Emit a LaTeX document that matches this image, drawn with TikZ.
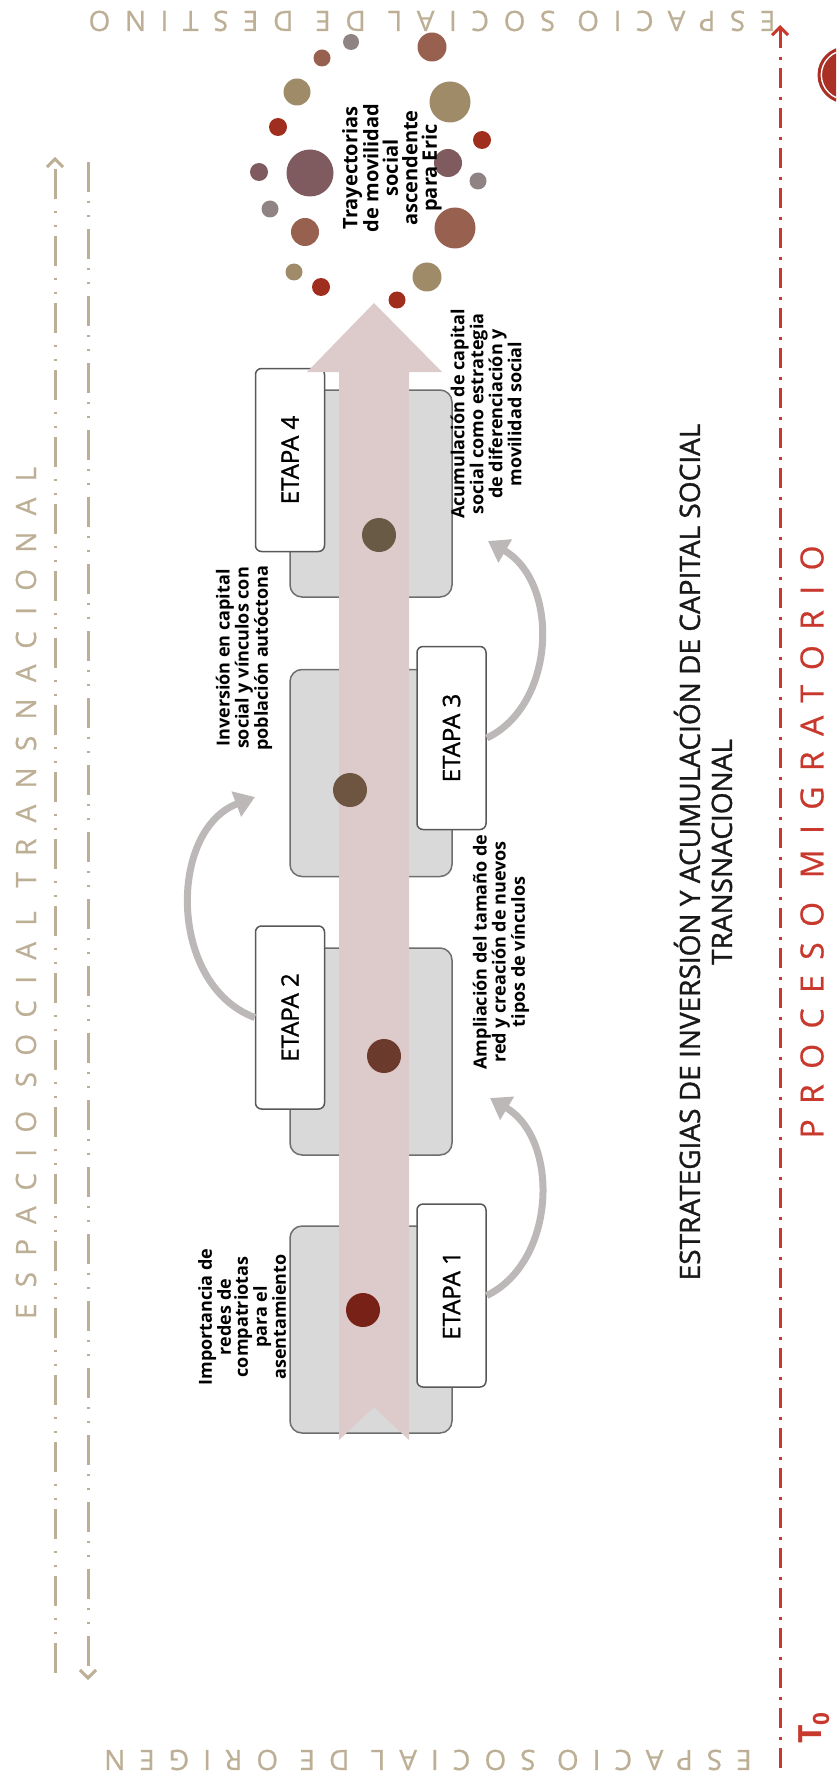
\documentclass[tikz,border=0pt]{standalone}
\usepackage{fontspec}
\setmainfont{Open Sans}
\usetikzlibrary{arrows.meta}
\definecolor{tierra}{HTML}{BDAF95}
\definecolor{rojo}{HTML}{C8382C}
\definecolor{rosa}{HTML}{DDCACA}
\definecolor{gris}{HTML}{D9D9D9}
\definecolor{borde}{HTML}{6E6E6E}
\definecolor{curva}{HTML}{BCB8B8}
\definecolor{ocre}{HTML}{A08B68}
\definecolor{malva}{HTML}{7F5A5F}
\definecolor{teja}{HTML}{98604E}
\definecolor{granate}{HTML}{A02E1F}
\definecolor{ceniza}{HTML}{8F8384}
\newcommand{\espaciado}[2]{{\addfontfeature{LetterSpace=#1,FakeBold=0.6}#2}}
\newcommand{\grueso}{\addfontfeature{FakeBold=1.2}}
\tikzset{
  fase/.style={draw=borde,fill=gris,rounded corners=12pt,line width=1.5pt,minimum width=162pt,minimum height=207pt},
  etapa/.style={draw=borde!80!black,fill=white,rounded corners=6pt,line width=1.5pt,rotate=90,minimum width=183pt,minimum height=69pt,font=\fontsize{24}{28}\selectfont\grueso},
  nota/.style={rotate=90,align=center,inner sep=0pt,font=\bfseries\fontsize{18}{17}\selectfont},
  hito/.style={circle,inner sep=0pt,minimum size=34pt,fill=#1},
  burbuja/.style={circle,inner sep=0pt,fill=#1},
  salto/.style={draw=curva,line width=7pt,-{Triangle[length=20pt,width=26pt]}},
  rotulo/.style={text=tierra,inner sep=0pt,font=\fontsize{28}{30}\selectfont},
  eje/.style={line width=3pt,-{Straight Barb[length=8pt,width=16pt]}},
}
\begin{document}
\begin{tikzpicture}[x=1pt,y=-1pt]
\useasboundingbox (0,0) rectangle (836,1784);
\clip (0,0) rectangle (836,1784);

% destino
\foreach \x/\y/\d/\c [count=\i] in {351/42/16/ceniza,322/58/17/teja,432/47/29/teja,297/92/27/ocre,
    450/102/41/ocre,278/127/18/granate,310/173/47/malva,259/172/18/malva,448/163/28/malva,
    270/209/17/ceniza,305/232/28/teja,455/228/41/teja,294/272/17/ocre,321/287/18/granate,
    427/277/29/ocre,397/300/17/granate,482/140/18/granate,478/181/17/ceniza}
  \node[burbuja=\c,minimum size=\d pt] (b\i) at (\x,\y) {};
\node[nota,font=\bfseries\fontsize{20}{19.5}\selectfont] (tray) at (392,168) {Trayectorias\\de movilidad\\social\\ascendente\\para Eric};

\node[circle,fill=rojo!85!black,draw=white,line width=1.5pt,minimum size=54pt,inner sep=0pt,
  double=rojo!85!black,double distance=3pt] (sello) at (846,75) {};

% ejes
\coordinate (o1) at (55,1673);
\coordinate (d1) at (55,157);
\coordinate (d2) at (88,162);
\coordinate (o2) at (88,1680);
\coordinate (inicio) at (780,1768);
\coordinate (fin) at (780,25);
\draw[eje,tierra,dash pattern=on 30pt off 9pt on 2pt off 12pt on 2pt off 12pt] (o1) -- (d1);
\draw[eje,tierra,dash pattern=on 30pt off 9pt on 2pt off 12pt on 2pt off 12pt] (d2) -- (o2);
\draw[eje,rojo,dash pattern=on 20pt off 8pt on 3pt off 9pt] (inicio) -- (fin);

\node[rotulo,rotate=180] (destino) at (432,21) {\espaciado{52}{ESPACIO SOCIAL DE DESTINO}};
\node[rotulo,rotate=180] (origen) at (428,1760) {\espaciado{50}{ESPACIO SOCIAL DE ORIGEN}};
\node[rotulo,rotate=90] (trans) at (26,893) {\espaciado{58}{ESPACIO SOCIAL TRANSNACIONAL}};
\node[rotate=90,text=rojo,inner sep=0pt,font=\fontsize{32}{34}\selectfont] (proceso) at (812,842) {\espaciado{48}{PROCESO MIGRATORIO}};
\node[rotate=90,text=rojo,inner sep=0pt,font=\bfseries\fontsize{32}{34}\selectfont] (tcero) at (814,1728) {T\textsubscript{0}};
\node[rotate=90,align=center,inner sep=0pt,text=black!90,font=\fontsize{28}{32}\selectfont\grueso] (titulo) at (703,852)
  {ESTRATEGIAS DE INVERSIÓN Y ACUMULACIÓN DE CAPITAL SOCIAL\\TRANSNACIONAL};

% etapas
\node[fase] (g1) at (371,1329.5) {};
\node[fase] (g2) at (371,1051.5) {};
\node[fase] (g3) at (371,773) {};
\node[fase] (g4) at (371,493.5) {};
\node[etapa] (e1) at (451.5,1295.5) {ETAPA 1};
\node[etapa] (e2) at (290,1017.5) {ETAPA 2};
\node[etapa] (e3) at (451.5,738) {ETAPA 3};
\node[etapa] (e4) at (290,460) {ETAPA 4};

\fill[rosa] (339,1440) -- (374,1407) -- (409,1440) -- (409,372) -- (442,372) -- (374,303)
  -- (307,372) -- (339,372) -- cycle;

\node[hito=granate!75!black] (h1) at (363,1310) {};
\node[hito=teja!70!granate!70!black] (h2) at (384,1056) {};
\node[hito=ocre!60!teja!70!black] (h3) at (350,790) {};
\node[hito=ocre!65!black] (h4) at (379,535) {};

\node[nota] (imp) at (242,1317) {Importancia de\\redes de\\compatriotas\\para el\\asentamiento};
\node[nota] (amp) at (501,952) {Ampliación del tamaño de\\red y creación de nuevos\\tipos de vínculos};
\node[nota] (inv) at (244,658) {Inversión en capital\\social y vínculos con\\población autóctona};
\node[nota] (acu) at (486,414) {Acumulación de capital\\social como estrategia\\de diferenciación y\\movilidad social};

\coordinate (s1) at (490,1098);
\coordinate (s2) at (255,797);
\coordinate (s3) at (488,541);
\draw[salto] (e1.south) .. controls (556,1262) and (560,1140) .. (s1);
\draw[salto] (e2.north) .. controls (168,985) and (168,830) .. (s2);
\draw[salto] (e3.south) .. controls (556,705) and (560,583) .. (s3);
\end{tikzpicture}
\end{document}
